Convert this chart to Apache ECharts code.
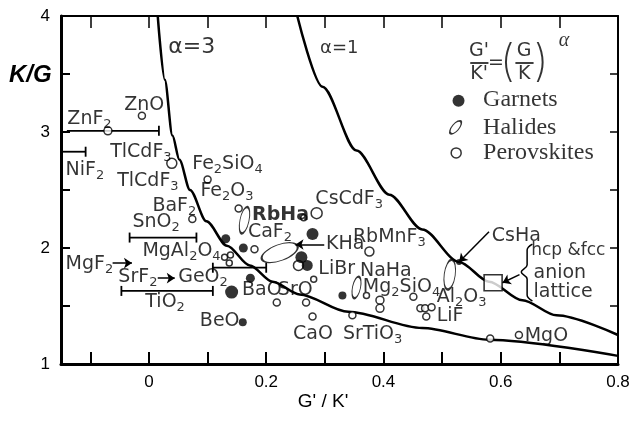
<!DOCTYPE html>
<html>
<head>
<meta charset="utf-8">
<script src="https://cdn.jsdelivr.net/npm/echarts@6/dist/echarts.min.js"></script>
<style>
html, body { margin: 0; padding: 0; background: #fff; }
#chart { width: 635px; height: 423px; }
</style>
</head>
<body>
<div id="chart"></div>
<script>
// values: x = G'/K', y = K/G
var alpha3Curve = [[0.015, 4.0], [0.027, 3.45], [0.04, 2.97], [0.052, 2.76], [0.07, 2.5], [0.098, 2.23],
    [0.133, 2.02], [0.172, 1.85], [0.211, 1.71], [0.257, 1.6], [0.34, 1.45], [0.466, 1.31], [0.58, 1.21], [0.8, 1.07]];
var alpha1Curve = [[0.253, 4.0], [0.296, 3.39], [0.354, 2.84], [0.41, 2.46], [0.466, 2.16], [0.529, 1.88],
    [0.58, 1.71], [0.637, 1.55], [0.695, 1.42], [0.8, 1.25]];

// filled circles
var garnets = [[0.131, 2.08], [0.161, 2.00], [0.279, 2.12], [0.260, 1.92], [0.270, 1.85], [0.173, 1.74],
    [0.141, 1.62], [0.160, 1.36], [0.330, 1.59], [0.529, 1.88]];
var garnetSize = [9, 9, 12, 12, 11, 9, 13, 8, 8, 6];

// open circles
var perovskites = [[-0.012, 3.14], [-0.070, 3.01], [0.039, 2.73], [0.100, 2.59], [0.153, 2.34], [0.074, 2.25],
    [0.264, 2.26], [0.286, 2.30], [0.180, 1.99], [0.129, 1.92], [0.139, 1.94], [0.137, 1.87], [0.255, 1.85],
    [0.218, 1.53], [0.268, 1.53], [0.281, 1.73], [0.279, 1.41], [0.376, 1.97], [0.371, 1.59], [0.394, 1.55],
    [0.394, 1.48], [0.347, 1.42], [0.451, 1.58], [0.463, 1.48], [0.471, 1.48], [0.482, 1.49], [0.473, 1.41],
    [0.582, 1.22], [0.631, 1.25]];
var perovskiteSize = [7, 8, 10, 7, 7, 7, 6, 11, 7, 6, 6, 6, 10, 7, 7, 6, 7, 9, 6, 8, 8, 7, 7, 7, 7, 7, 7, 7, 7];

// halide ellipses: centre, then [width, height, rotation]
var halides = [[0.163, 2.24], [0.223, 1.96], [0.354, 1.66], [0.513, 1.77]];
var halideShape = [[9, 27, -12], [38, 16, 20], [8, 22, -12], [11, 30, -8]];

var latticeBox = [[0.587, 1.70]];

// [x low, x high, y, cap at low end, cap at high end]
var errorBars = [[-0.140, 0.017, 3.01, 0, 1], [-0.147, -0.108, 2.83, 0, 1], [-0.033, 0.081, 2.09, 1, 1],
    [0.109, 0.200, 1.83, 1, 1], [-0.047, 0.109, 1.63, 1, 1]];

// [x1, y1, x2, y2], head at the second point
var arrows = [[-0.062, 1.87, -0.029, 1.87], [0.015, 1.74, 0.044, 1.74], [0.299, 2.03, 0.250, 2.03],
    [0.580, 2.14, 0.529, 1.88], [0.632, 1.77, 0.603, 1.70]];

var brace = [[0.654, 2.034], [0.645, 1.983], [0.645, 1.853], [0.635, 1.793], [0.645, 1.733], [0.645, 1.595], [0.654, 1.543]];

// labels, left edge and middle of the text (_n = subscript), optional font size
var names = [['ZnO', -0.043, 3.23], ['ZnF_2', -0.140, 3.11], ['NiF_2', -0.143, 2.67], ['TlCdF_3', -0.067, 2.83],
    ['TlCdF_3', -0.055, 2.58], ['Fe_2SiO_4', 0.073, 2.72], ['Fe_2O_3', 0.087, 2.49], ['BaF_2', 0.005, 2.36],
    ['SnO_2', -0.029, 2.22], ['{b|RbHa}', 0.175, 2.28], ['CsCdF_3', 0.283, 2.42], ['CaF_2', 0.168, 2.14],
    ['KHa', 0.301, 2.03], ['RbMnF_3', 0.347, 2.09], ['LiBr', 0.288, 1.82], ['NaHa', 0.359, 1.80],
    ['MgAl_2O_4', -0.012, 1.97], ['MgF_2', -0.143, 1.86], ['SrF_2', -0.053, 1.75], ['GeO_2', 0.049, 1.75],
    ['TiO_2', -0.007, 1.53], ['BaO', 0.158, 1.64], ['SrO', 0.219, 1.64], ['BeO', 0.086, 1.37], ['CaO', 0.245, 1.26],
    ['Mg_2SiO_4', 0.364, 1.66], ['SrTiO_3', 0.330, 1.26], ['Al_2O_3', 0.490, 1.58], ['LiF', 0.490, 1.41],
    ['CsHa', 0.584, 2.10], ['hcp &fcc', 0.651, 1.98, 17], ['anion', 0.655, 1.78], ['lattice', 0.655, 1.62],
    ['MgO', 0.640, 1.24]];
var alphaNames = [['α=3', 0.032, 3.73, 22], ['α=1', 0.291, 3.72, 18]];

var keyMarks = [[0.528, 3.27], [0.523, 3.04], [0.524, 2.82]];
var keyNames = [['Garnets', 0.569, 3.28], ['Halides', 0.569, 3.04], ['Perovskites', 0.569, 2.82]];

// G'/K' = (G/K)^alpha, centred pieces
var formulaParts = [["G'", 0.563, 3.70], ["K'", 0.563, 3.50], ['=', 0.592, 3.59], ['G', 0.640, 3.70], ['K', 0.640, 3.50]];
var parens = [['(', 0.611, 3.60], [')', 0.669, 3.60]];
var fractionBars = [[0.548, 0.579, 3.60], [0.625, 0.656, 3.60]];
var alphaExp = [['α', 0.708, 3.79]];

function chem(p) {
    return p.name.replace(/_(\d)/g, '{s|$1}');
}

function textSeries(rows, pos, lab) {
    var label = {show: true, position: pos, distance: 0, color: '#000', formatter: chem,
        textBorderWidth: 0, textBorderColor: 'transparent'};
    for (var k in lab) label[k] = lab[k];
    return {
        type: 'scatter', silent: true, symbolSize: 1, z: 6,
        itemStyle: {color: 'rgba(0,0,0,0)'},
        data: rows.map(function (r) {
            var d = {name: r[0], value: [r[1], r[2]]};
            if (r[3]) d.label = {fontSize: r[3]};
            return d;
        }),
        label: label
    };
}

function renderBar(params, api) {
    var y = api.value(2);
    var a = api.coord([api.value(0), y]);
    var b = api.coord([api.value(1), y]);
    var st = {stroke: '#000', lineWidth: 1.8};
    var kids = [{type: 'line', shape: {x1: a[0], y1: a[1], x2: b[0], y2: b[1]}, style: st}];
    if (api.value(3)) kids.push({type: 'line', shape: {x1: a[0], y1: a[1] - 5, x2: a[0], y2: a[1] + 5}, style: st});
    if (api.value(4)) kids.push({type: 'line', shape: {x1: b[0], y1: b[1] - 5, x2: b[0], y2: b[1] + 5}, style: st});
    return {type: 'group', children: kids};
}

var hollow = {color: '#fff', borderColor: '#000', borderWidth: 1.5};

var myChart = echarts.init(document.getElementById('chart'));
var option = {
    animation: false,
    backgroundColor: '#fff',
    grid: {left: 61, right: 17, top: 16, bottom: 59},
    xAxis: [{
        type: 'value', min: -0.15, max: 0.8, splitNumber: 10, position: 'bottom',
        axisLine: {onZero: false, lineStyle: {color: '#000', width: 3}},
        axisTick: {inside: true, length: 12, lineStyle: {color: '#000', width: 2}},
        splitLine: {show: false},
        axisLabel: {
            color: '#000', fontSize: 17, fontFamily: 'Liberation Sans', margin: 10,
            formatter: function (v) {
                if (v < 0 || Math.abs(v * 5 - Math.round(v * 5)) > 1e-6) return '';
                return v === 0 ? '0' : v.toFixed(1);
            }
        }
    }, {
        type: 'value', min: -0.15, max: 0.8, splitNumber: 10, position: 'top',
        axisLine: {onZero: false, lineStyle: {color: '#000', width: 2}},
        axisTick: {inside: true, length: 12, lineStyle: {color: '#000', width: 1.5}},
        splitLine: {show: false},
        axisLabel: {show: false}
    }],
    yAxis: [{
        type: 'value', min: 1, max: 4, interval: 0.5, position: 'left',
        axisLine: {onZero: false, lineStyle: {color: '#000', width: 3}},
        axisTick: {inside: true, length: 9, lineStyle: {color: '#000', width: 2}},
        splitLine: {show: false},
        axisLabel: {
            color: '#000', fontSize: 17, fontFamily: 'Liberation Sans', margin: 11,
            formatter: function (v) { return v % 1 === 0 ? String(v) : ''; }
        }
    }, {
        type: 'value', min: 1, max: 4, interval: 0.5, position: 'right',
        axisLine: {onZero: false, lineStyle: {color: '#000', width: 2}},
        axisTick: {inside: true, length: 8, lineStyle: {color: '#000', width: 1.5}},
        splitLine: {show: false},
        axisLabel: {show: false}
    }],
    graphic: [
        {type: 'text', left: 9, top: 63, style: {text: 'K/G', font: 'italic bold 24px "Liberation Sans"', fill: '#000'}},
        {type: 'text', x: 323, y: 402, style: {text: "G' / K'", font: '19px "Liberation Sans"', fill: '#000', textAlign: 'center', textVerticalAlign: 'middle'}}
    ],
    series: [
        {
            name: 'alpha=3', type: 'line', data: alpha3Curve, showSymbol: false, symbol: 'none',
            smooth: 0.3, smoothMonotone: 'x', silent: true, z: 2,
            lineStyle: {color: '#000', width: 2.5},
            markLine: {
                silent: true, symbol: 'none', label: {show: false}, animation: false,
                lineStyle: {color: '#000', width: 1.5, type: 'solid'},
                data: fractionBars.map(function (f) { return [{coord: [f[0], f[2]]}, {coord: [f[1], f[2]]}]; })
            }
        },
        {
            name: 'alpha=1', type: 'line', data: alpha1Curve, showSymbol: false, symbol: 'none',
            smooth: 0.3, smoothMonotone: 'x', silent: true, z: 2,
            lineStyle: {color: '#000', width: 2.5},
            markLine: {
                silent: true, symbol: ['none', 'arrow'], symbolSize: 8, label: {show: false}, animation: false,
                lineStyle: {color: '#000', width: 1.5, type: 'solid'},
                data: arrows.map(function (a) { return [{coord: [a[0], a[1]]}, {coord: [a[2], a[3]]}]; })
            }
        },
        {
            name: 'brace', type: 'line', data: brace, symbol: 'none', smooth: 0.4, silent: true,
            lineStyle: {color: '#000', width: 1.5}
        },
        {
            name: 'error bars', type: 'custom', renderItem: renderBar, data: errorBars,
            encode: {x: [0, 1], y: 2}, silent: true, z: 3
        },
        {
            name: 'Perovskites', type: 'scatter', silent: true, z: 4,
            data: perovskites.map(function (p, i) { return {value: p, symbolSize: perovskiteSize[i]}; }),
            itemStyle: hollow
        },
        {
            name: 'Halides', type: 'scatter', silent: true, z: 4,
            data: halides.map(function (p, i) {
                return {value: p, symbolSize: [halideShape[i][0], halideShape[i][1]], symbolRotate: halideShape[i][2]};
            }),
            itemStyle: hollow
        },
        {
            name: 'Garnets', type: 'scatter', silent: true, z: 5,
            data: garnets.map(function (p, i) { return {value: p, symbolSize: garnetSize[i]}; }),
            itemStyle: {color: '#000'}
        },
        {
            name: 'lattice', type: 'scatter', silent: true, z: 4, symbol: 'rect', symbolSize: [18, 16],
            data: latticeBox, itemStyle: hollow
        },
        {
            name: 'key', type: 'scatter', silent: true, z: 5,
            data: [
                {value: keyMarks[0], symbolSize: 12, itemStyle: {color: '#000'}},
                {value: keyMarks[1], symbolSize: [7, 16], symbolRotate: -40, itemStyle: hollow},
                {value: keyMarks[2], symbolSize: 10, itemStyle: hollow}
            ]
        },
        textSeries(names, 'right', {
            fontFamily: 'DejaVu Sans', fontSize: 19, lineHeight: 24,
            rich: {
                s: {fontFamily: 'DejaVu Sans', fontSize: 13, lineHeight: 12, verticalAlign: 'bottom'},
                b: {fontFamily: 'DejaVu Sans', fontSize: 19, lineHeight: 24, fontWeight: 'bold'}
            }
        }),
        {
            type: 'scatter', silent: true, symbolSize: 1, z: 6, itemStyle: {color: 'rgba(0,0,0,0)'},
            data: alphaNames.map(function (r) {
                return {name: r[0], value: [r[1], r[2]], label: {fontSize: r[3]}};
            }),
            label: {show: true, position: 'right', distance: 0, color: '#000', fontFamily: 'DejaVu Sans', formatter: '{b}'}
        },
        textSeries(keyNames, 'right', {fontFamily: 'Liberation Serif', fontSize: 24}),
        textSeries(formulaParts, 'inside', {fontFamily: 'DejaVu Sans', fontSize: 19}),
        textSeries(parens, 'inside', {fontFamily: 'Inter', fontSize: 44, fontWeight: 200}),
        textSeries(alphaExp, 'inside', {fontFamily: 'Liberation Serif', fontSize: 20, fontStyle: 'italic'})
    ]
};
myChart.setOption(option);
window.addEventListener('resize', function () {
    myChart.resize();
});
</script>
</body>
</html>
